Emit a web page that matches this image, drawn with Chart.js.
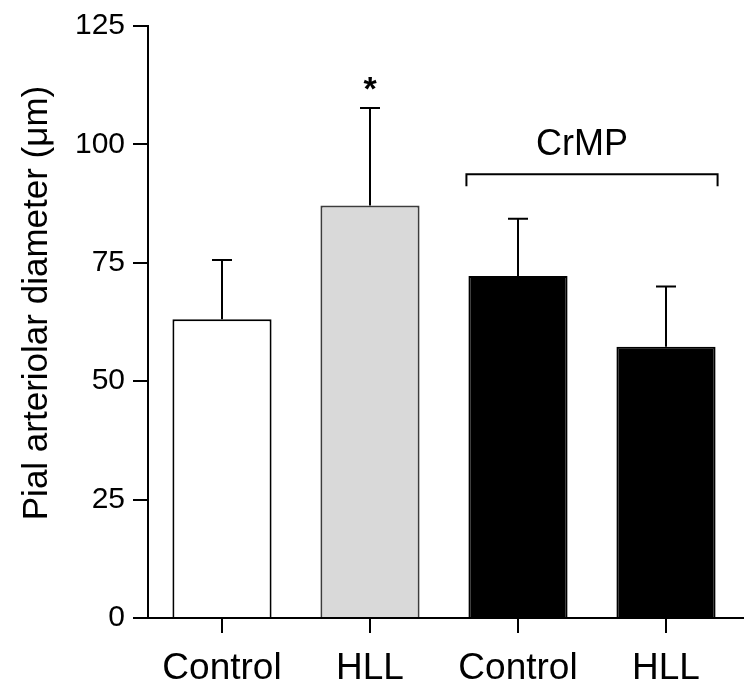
<!DOCTYPE html>
<html><head><meta charset="utf-8">
<script src="https://cdn.jsdelivr.net/npm/chart.js@4/dist/chart.umd.min.js"></script>
<style>html,body{margin:0;padding:0;background:#fff;} #wrap{width:749px;height:693px;}</style>
</head><body><div id="wrap"><canvas id="c" width="749" height="693"></canvas></div>
<script>
const categories = ['Control', 'HLL', 'Control', 'HLL'];
const means = [63.1, 87.1, 72.2, 57.3];
const errors = [12.5, 20.6, 12.1, 12.7];
const yTicks = [0, 25, 50, 75, 100, 125];
const groupLabel = 'CrMP';
const groupRange = [2, 3];
const groupLevel = 93.7;
const starIndex = [1];
const yTitle = 'Pial arteriolar diameter (μm)';

const FONT = "'Liberation Sans', Arial, Helvetica, sans-serif";

const annot = {
  id: 'annot',
  afterDatasetsDraw(chart) {
    const ctx = chart.ctx;
    const ys = chart.scales.y;
    const meta = chart.getDatasetMeta(0);
    ctx.save();
    ctx.strokeStyle = '#000';
    ctx.lineWidth = 2;
    // error bars
    meta.data.forEach((bar, i) => {
      const x = bar.x;
      const yTop = ys.getPixelForValue(means[i]);
      const yErr = ys.getPixelForValue(means[i] + errors[i]);
      ctx.beginPath();
      ctx.moveTo(x, yTop);
      ctx.lineTo(x, yErr);
      ctx.moveTo(x - 10, yErr);
      ctx.lineTo(x + 10, yErr);
      ctx.stroke();
    });
    // x axis line (extends past y axis)
    const y0 = ys.getPixelForValue(0);
    ctx.beginPath();
    ctx.moveTo(ys.right - 15, y0);
    ctx.lineTo(chart.chartArea.right + 4, y0);
    ctx.stroke();
    // asterisk
    ctx.fillStyle = '#000';
    ctx.textAlign = 'center';
    ctx.textBaseline = 'alphabetic';
    ctx.font = 'bold 34px ' + FONT;
    starIndex.forEach(i => {
      const b = meta.data[i];
      const yErr = ys.getPixelForValue(means[i] + errors[i]);
      ctx.fillText('*', b.x, yErr - 8);
    });
    // bracket
    const b1 = meta.data[groupRange[0]], b2 = meta.data[groupRange[1]];
    const xl = b1.x - b1.width / 2 - 2, xr = b2.x + b2.width / 2 + 2;
    const yb = ys.getPixelForValue(groupLevel);
    ctx.beginPath();
    ctx.moveTo(xl, yb + 12);
    ctx.lineTo(xl, yb);
    ctx.lineTo(xr, yb);
    ctx.lineTo(xr, yb + 12);
    ctx.stroke();
    ctx.font = '36px ' + FONT;
    ctx.fillText(groupLabel, (xl + xr) / 2 - 10, yb - 19);
    // y title
    ctx.save();
    ctx.translate(37, (chart.chartArea.top + chart.chartArea.bottom) / 2 - 19);
    ctx.rotate(-Math.PI / 2);
    ctx.textBaseline = 'middle';
    ctx.font = '35px ' + FONT;
    ctx.fillText(yTitle, 0, 0);
    ctx.restore();
    ctx.restore();
  }
};

new Chart(document.getElementById('c'), {
  type: 'bar',
  data: {
    labels: categories,
    datasets: [{
      data: means,
      backgroundColor: ['#ffffff', '#d9d9d9', '#000000', '#000000'],
      borderColor: ['#000000', '#3c3c3c', '#000000', '#000000'],
      borderWidth: 2,
      barPercentage: 0.67,
      categoryPercentage: 1
    }]
  },
  options: {
    responsive: false,
    animation: false,
    devicePixelRatio: 1,
    layout: { padding: { left: 0, right: 9, top: 25, bottom: 0 } },
    plugins: { legend: { display: false }, tooltip: { enabled: false } },
    scales: {
      x: {
        grid: { display: true, drawOnChartArea: false, drawTicks: true, tickLength: 15, color: '#000', lineWidth: 2, offset: false },
        border: { display: false },
        ticks: { color: '#000', font: { family: FONT, size: 37 }, padding: 14, maxRotation: 0, autoSkip: false },
        afterFit(s) { s.height = 75; }
      },
      y: {
        min: 0, max: 125,
        afterBuildTicks(s) { s.ticks = yTicks.map(v => ({ value: v })); },
        grid: { drawOnChartArea: false, drawTicks: true, tickLength: 15, color: '#000', lineWidth: 2 },
        border: { display: true, color: '#000', width: 2 },
        ticks: { color: '#000', font: { family: FONT, size: 30 }, padding: 8 },
        afterFit(s) { s.width = 148; }
      }
    }
  },
  plugins: [annot]
});
</script>
</body></html>
